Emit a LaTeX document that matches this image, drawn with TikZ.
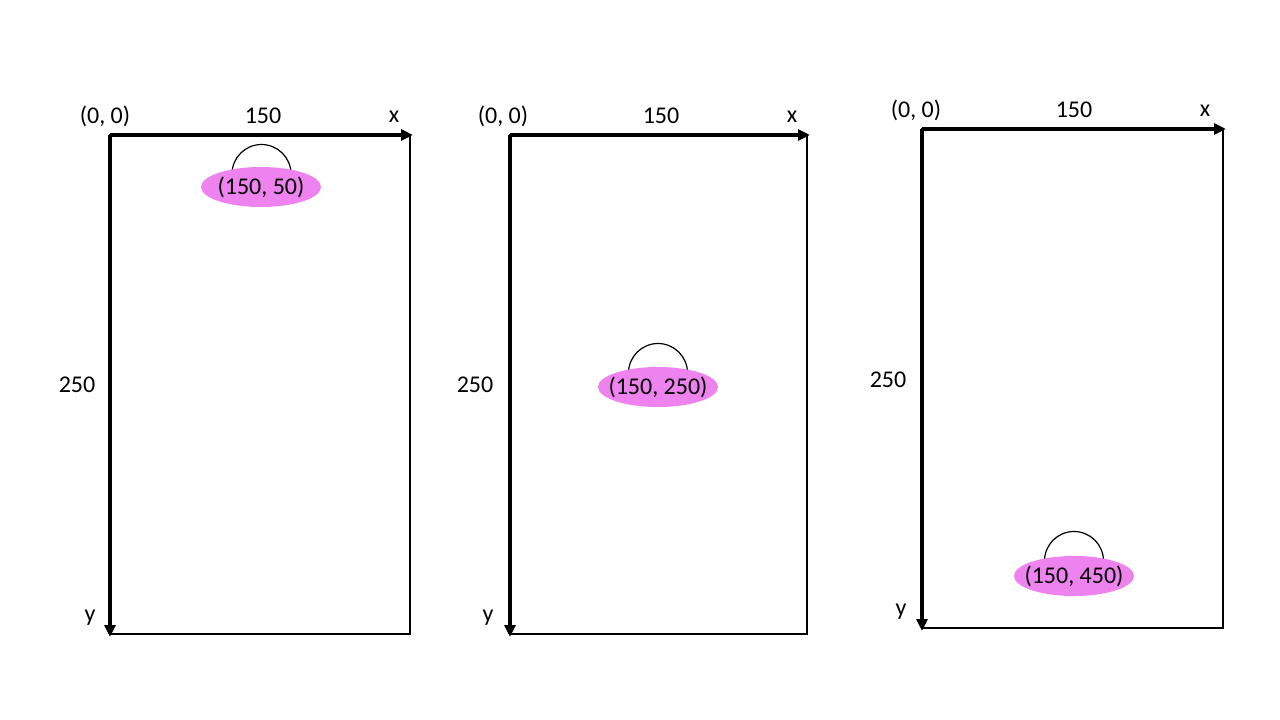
\documentclass[tikz,border=0pt]{standalone}
\usepackage{fontspec}
\setmainfont{Carlito}
\usetikzlibrary{arrows.meta,shapes.geometric}
\definecolor{orbfill}{HTML}{EE82EE}
\tikzset{
  axisline/.style={line width=3.5pt,-{Triangle[length=12pt,width=11pt]}},
  frameline/.style={line width=1.3pt},
  lbl/.style={font=\fontsize{24}{28}\selectfont,inner sep=0pt,anchor=center},
  orb/.style={ellipse,fill=orbfill,minimum width=120pt,minimum height=40pt,inner xsep=-9pt,inner ysep=0pt,font=\fontsize{24}{28}\selectfont},
  dome/.style={line width=1.2pt}
}
\begin{document}
\begin{tikzpicture}[x=1pt,y=-1pt]
\useasboundingbox[fill=white] (0,0) rectangle (1280,720);
% Panel 1
\coordinate (oA) at (110,135);
\coordinate (xA) at (413,135);
\coordinate (yA) at (110,637);
\coordinate (bA) at (410,634);
\draw[frameline] (oA) rectangle (bA);
\draw[axisline] (oA) -- (xA);
\draw[axisline] (oA) -- (yA);
\draw[dome] (232,174) arc[start angle=180,end angle=360,radius=29.5];
\node[orb] (eA) at (261,187) {(150, 50)};
\node[lbl] (zA) at (105,116) {(0, 0)};
\node[lbl] (wA) at (263,116) {150};
\node[lbl] (xlA) at (394,117) {x};
\node[lbl] (hA) at (77,385) {250};
\node[lbl] (ylA) at (90,618) {y};
% Panel 2
\coordinate (oB) at (510,135);
\coordinate (xB) at (810,135);
\coordinate (yB) at (510,637);
\coordinate (bB) at (807,634);
\draw[frameline] (oB) rectangle (bB);
\draw[axisline] (oB) -- (xB);
\draw[axisline] (oB) -- (yB);
\draw[dome] (628.5,373) arc[start angle=180,end angle=360,radius=29.5];
\node[orb] (eB) at (658,387) {(150, 250)};
\node[lbl] (zB) at (503,116) {(0, 0)};
\node[lbl] (wB) at (661,116) {150};
\node[lbl] (xlB) at (792,117) {x};
\node[lbl] (hB) at (475,385) {250};
\node[lbl] (ylB) at (488,618) {y};
% Panel 3
\coordinate (oC) at (922,129);
\coordinate (xC) at (1226,129);
\coordinate (yC) at (922,631);
\coordinate (bC) at (1223,628);
\draw[frameline] (oC) rectangle (bC);
\draw[axisline] (oC) -- (xC);
\draw[axisline] (oC) -- (yC);
\draw[dome] (1044.5,561) arc[start angle=180,end angle=360,radius=29.5];
\node[orb] (eC) at (1074,576) {(150, 450)};
\node[lbl] (zC) at (916,110) {(0, 0)};
\node[lbl] (wC) at (1074,110) {150};
\node[lbl] (xlC) at (1205,111) {x};
\node[lbl] (hC) at (888,380) {250};
\node[lbl] (ylC) at (901,612) {y};
\end{tikzpicture}
\end{document}
